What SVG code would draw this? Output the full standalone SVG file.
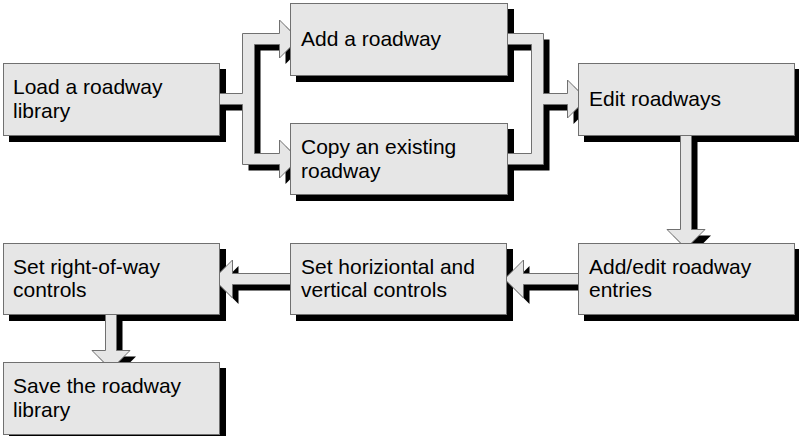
<svg xmlns="http://www.w3.org/2000/svg" xmlns:xlink="http://www.w3.org/1999/xlink" width="799" height="436" viewBox="0 0 799 436">
<style>
.sh{fill:#000;stroke:none}
.box{fill:#e6e6e6;stroke:#707070;stroke-width:1}
.arr{fill:#e6e6e6;stroke:#707070;stroke-width:1;stroke-linejoin:miter}
.t{font-family:"Liberation Sans",Arial,sans-serif;font-size:21px;fill:#000}
</style>
<defs>
<path id="fork" d="M217,93.5 H242.5 V33.5 H279.5 V20 L298.5,39 L279.5,58 V44.5 H254.5 V153.5 H279.5 V140 L298.5,159 L279.5,178 V164.5 H242.5 V104.5 H217 Z"/>
<path id="merge" d="M505,33.5 H543.5 V93.5 H567.5 V80 L586.5,99 L567.5,118 V104.5 H543.5 V164.5 H505 V153.5 H531.5 V44.5 H505 Z"/>
<path id="down1" d="M680.5,133 H691.5 V229.5 H705 L686,248.5 L667,229.5 H680.5 Z"/>
<path id="left1" d="M581,273.5 V284.5 H523.5 V298 L504.5,279 L523.5,260 V273.5 Z"/>
<path id="left2" d="M292,273.5 V284.5 H232.5 V298 L213.5,279 L232.5,260 V273.5 Z"/>
<path id="down2" d="M105.5,312 H116.5 V350.5 H130 L111,369.5 L92,350.5 H105.5 Z"/>
</defs>
<g id="shadows" class="sh">
<rect x="9" y="69" width="217" height="73"/>
<rect x="296" y="9" width="218" height="73"/>
<rect x="296" y="129" width="218" height="72"/>
<rect x="584" y="69" width="217" height="73"/>
<rect x="584" y="249" width="217" height="72"/>
<rect x="296" y="249" width="217" height="72"/>
<rect x="9" y="249" width="217" height="72"/>
<rect x="9" y="368" width="217" height="73"/>
</g>
<g id="connectors">
<g class="sh" transform="translate(6,6)">
<use xlink:href="#fork"/>
<use xlink:href="#merge"/>
<use xlink:href="#down1"/>
<use xlink:href="#left1"/>
<use xlink:href="#left2"/>
<use xlink:href="#down2"/>
</g>
<g class="arr">
<use xlink:href="#fork"/>
<use xlink:href="#merge"/>
<use xlink:href="#down1"/>
<use xlink:href="#left1"/>
<use xlink:href="#left2"/>
<use xlink:href="#down2"/>
</g>
</g>
<g id="load">
<rect class="box" x="3.5" y="63.5" width="216" height="72"/>
<text class="t" x="13" y="94">Load a roadway</text>
<text class="t" x="13" y="118">library</text>
</g>
<g id="add">
<rect class="box" x="290.5" y="3.5" width="217" height="72"/>
<text class="t" x="301" y="46">Add a roadway</text>
</g>
<g id="copy">
<rect class="box" x="290.5" y="123.5" width="217" height="71"/>
<text class="t" x="301" y="154">Copy an existing</text>
<text class="t" x="301" y="178">roadway</text>
</g>
<g id="edit">
<rect class="box" x="578.5" y="63.5" width="216" height="72"/>
<text class="t" x="589" y="106">Edit roadways</text>
</g>
<g id="addedit">
<rect class="box" x="578.5" y="243.5" width="216" height="71"/>
<text class="t" x="589" y="274">Add/edit roadway</text>
<text class="t" x="589" y="297">entries</text>
</g>
<g id="sethv">
<rect class="box" x="290.5" y="243.5" width="216" height="71"/>
<text class="t" x="301" y="274">Set horiziontal and</text>
<text class="t" x="301" y="297">vertical controls</text>
</g>
<g id="setrow">
<rect class="box" x="3.5" y="243.5" width="216" height="71"/>
<text class="t" x="13" y="274">Set right-of-way</text>
<text class="t" x="13" y="297">controls</text>
</g>
<g id="save">
<rect class="box" x="3.5" y="362.5" width="216" height="72"/>
<text class="t" x="13" y="393">Save the roadway</text>
<text class="t" x="13" y="417">library</text>
</g>
</svg>
